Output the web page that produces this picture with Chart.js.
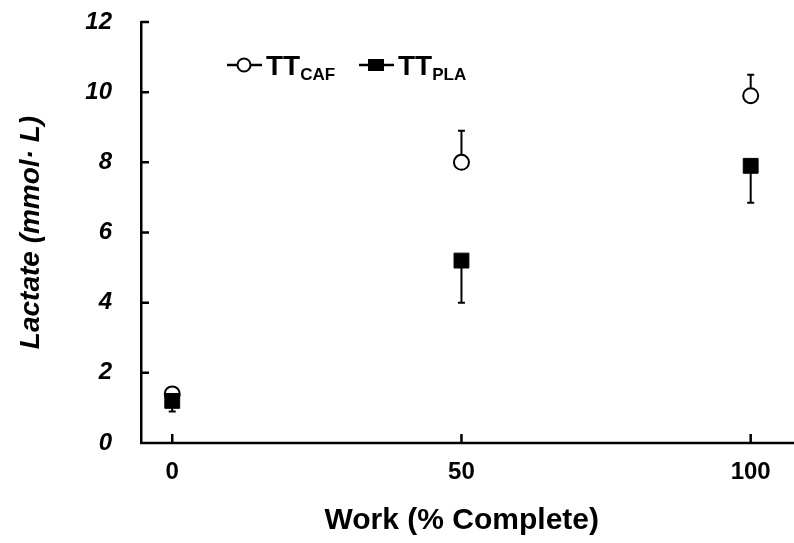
<!DOCTYPE html>
<html>
<head>
<meta charset="utf-8">
<script src="https://cdn.jsdelivr.net/npm/chart.js@4/dist/chart.umd.min.js"></script>
<style>
  html, body { margin: 0; padding: 0; background: #fff; overflow: hidden; }
  #wrap { width: 794px; height: 543px; position: relative; }
  canvas { display: block; }
</style>
</head>
<body>
<div id="wrap"><canvas id="lactate_chart"></canvas></div>
<script>
// values
const work = [0, 50, 100];
const cafMean = [1.4, 8.0, 9.9];
const cafErr = [0.1, 0.9, 0.6];   // drawn upward
const plaMean = [1.2, 5.2, 7.9];
const plaErr = [0.3, 1.2, 1.05];  // drawn downward
const xTicks = [0, 50, 100];
const yTicks = [0, 2, 4, 6, 8, 10, 12];

const FONT = '"Liberation Sans", Arial, sans-serif';

function toPoints(xs, ys){
    return xs.map((x, i) => ({x: x, y: ys[i]}));
}

// error bars + inward tick marks + legend
const extras = {
    id: 'extras',
    beforeDatasetsDraw(chart){
        const ctx = chart.ctx;
        const xs = chart.scales.x, ys = chart.scales.y;
        ctx.save();
        ctx.strokeStyle = '#000';
        ctx.lineWidth = 2;
        const bars = [[cafMean, cafErr, 1], [plaMean, plaErr, -1]];
        bars.forEach(([m, e, dir]) => {
            work.forEach((w, i) => {
                const px = xs.getPixelForValue(w);
                const y0 = ys.getPixelForValue(m[i]);
                const y1 = ys.getPixelForValue(m[i] + dir * e[i]);
                ctx.beginPath();
                ctx.moveTo(px, y0);
                ctx.lineTo(px, y1);
                ctx.moveTo(px - 3.5, y1);
                ctx.lineTo(px + 3.5, y1);
                ctx.stroke();
            });
        });
        ctx.restore();
    },
    afterDraw(chart){
        const ctx = chart.ctx;
        const xs = chart.scales.x, ys = chart.scales.y;
        const area = chart.chartArea;
        ctx.save();
        ctx.strokeStyle = '#000';
        ctx.lineWidth = 2.5;
        ctx.beginPath();
        // x axis runs to the right edge of the figure
        ctx.moveTo(area.left - 1, area.bottom);
        ctx.lineTo(chart.width, area.bottom);
        yTicks.forEach(v => {
            if (v === 0) return;
            const py = ys.getPixelForValue(v);
            ctx.moveTo(area.left, py);
            ctx.lineTo(area.left + 8, py);
        });
        xTicks.forEach(v => {
            const px = xs.getPixelForValue(v);
            ctx.moveTo(px, area.bottom);
            ctx.lineTo(px, area.bottom - 9);
        });
        ctx.stroke();

        // legend with subscripts
        const ly = area.top + 43;
        const items = [
            {x: area.left + 86, label: 'CAF', style: 'circle'},
            {x: area.left + 218, label: 'PLA', style: 'rect'}
        ];
        items.forEach(it => {
            ctx.lineWidth = 2.5;
            ctx.beginPath();
            ctx.moveTo(it.x, ly);
            ctx.lineTo(it.x + 35, ly);
            ctx.stroke();
            const cx = it.x + 17;
            if (it.style === 'circle'){
                ctx.beginPath();
                ctx.arc(cx, ly, 6.5, 0, Math.PI * 2);
                ctx.fillStyle = '#fff';
                ctx.fill();
                ctx.lineWidth = 2;
                ctx.stroke();
            } else {
                ctx.fillStyle = '#000';
                ctx.fillRect(cx - 8, ly - 6, 16, 12);
            }
            ctx.fillStyle = '#000';
            ctx.textBaseline = 'alphabetic';
            ctx.textAlign = 'left';
            ctx.font = 'bold 28px ' + FONT;
            ctx.fillText('TT', it.x + 39, ly + 10);
            const w = ctx.measureText('TT').width;
            ctx.font = 'bold 17px ' + FONT;
            ctx.fillText(it.label, it.x + 39 + w, ly + 15);
        });
        ctx.restore();
    }
};

new Chart(document.getElementById('lactate_chart'), {
    type: 'scatter',
    data: {
        datasets: [{
            label: 'TT CAF',
            data: toPoints(work, cafMean),
            pointStyle: 'circle',
            pointRadius: 7.5,
            pointBorderWidth: 2,
            pointBackgroundColor: '#fff',
            pointBorderColor: '#000',
            order: 1
        },{
            label: 'TT PLA',
            data: toPoints(work, plaMean),
            pointStyle: 'rect',
            pointRadius: 10.5,
            pointBorderWidth: 1,
            pointBackgroundColor: '#000',
            pointBorderColor: '#000',
            order: 0
        }]
    },
    options: {
        responsive: true,
        maintainAspectRatio: false,
        animation: false,
        events: [],
        layout: { padding: { top: 22, right: 0, left: 0, bottom: 0 } },
        plugins: {
            legend: { display: false },
            tooltip: { enabled: false }
        },
        scales: {
            x: {
                type: 'linear',
                min: -5.4,
                max: 105.5,
                afterBuildTicks(scale){ scale.ticks = xTicks.map(v => ({value: v})); },
                afterFit(scale){
                    scale.height = 100;
                    scale.paddingLeft = 0;
                    scale.paddingRight = 0;
                },
                grid: { display: false, drawTicks: false, tickLength: 0 },
                border: { display: false },
                ticks: {
                    color: '#000',
                    padding: 15,
                    font: { family: FONT, size: 24, weight: 'bold' }
                },
                title: {
                    display: true,
                    text: 'Work (% Complete)',
                    color: '#000',
                    padding: { top: 0, bottom: 4 },
                    font: { family: FONT, size: 30, weight: 'bold' }
                }
            },
            y: {
                min: 0,
                max: 12,
                afterBuildTicks(scale){ scale.ticks = yTicks.map(v => ({value: v})); },
                afterFit(scale){
                    scale.width = 141;
                    scale.paddingTop = 0;
                    scale.paddingBottom = 0;
                },
                grid: { display: false, drawTicks: false, tickLength: 0 },
                border: { display: true, color: '#000', width: 2.5 },
                ticks: {
                    color: '#000',
                    padding: 29,
                    font: { family: FONT, size: 24, weight: 'bold', style: 'italic' }
                },
                title: {
                    display: true,
                    text: 'Lactate (mmol· L)',
                    color: '#000',
                    padding: { top: 14, bottom: 0 },
                    font: { family: FONT, size: 28, weight: 'bold', style: 'italic' }
                }
            }
        }
    },
    plugins: [extras]
});
</script>
</body>
</html>
